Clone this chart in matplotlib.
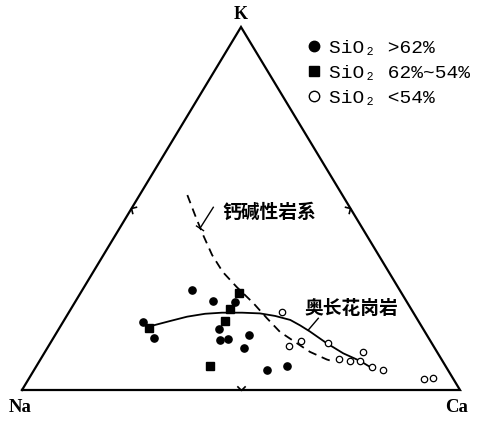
import numpy as np
import matplotlib
matplotlib.use("Agg")
import matplotlib.pyplot as plt
from matplotlib.lines import Line2D
from matplotlib.markers import MarkerStyle
from matplotlib.path import Path
from matplotlib.transforms import Affine2D

#=================================================
#       DATA  (Na, K, Ca in %)
#=================================================
# SiO2 > 62%  (filled circles)
hi_na = [47.4, 44.1, 39.2, 63.0, 62.7, 46.6, 40.5, 47.8, 45.9, 43.4, 41.3, 36.1]
hi_k  = [27.5, 24.5, 24.2, 18.8, 14.3, 16.7, 15.2, 13.9, 14.0, 11.7, 5.6, 6.7]
hi_ca = [25.1, 31.4, 36.6, 18.2, 23.0, 36.7, 44.3, 38.3, 40.1, 44.9, 53.1, 57.2]
# SiO2 62%~54%  (filled squares)
mid_na = [37.2, 41.4, 62.5, 44.3, 53.7]
mid_k  = [26.6, 22.2, 17.0, 18.9, 6.7]
mid_ca = [36.2, 36.4, 20.5, 36.8, 39.6]
# SiO2 < 54%  (open circles)
lo_na = [29.8, 32.9, 29.5, 23.7, 23.3, 21.0, 18.9, 16.9, 17.0, 14.8, 6.8, 4.4]
lo_k  = [21.5, 12.1, 13.6, 12.9, 8.6, 8.1, 8.0, 10.4, 6.4, 5.6, 2.9, 3.4]
lo_ca = [48.7, 55.0, 56.9, 63.4, 68.1, 70.9, 73.1, 72.7, 76.6, 79.6, 90.3, 92.2]

# trondhjemite trend (solid)
tr_na = [61.1, 56.7, 52.2, 47.7, 43.7, 39.1, 35.1, 32.0, 29.1, 27.6, 26.2, 24.0, 21.6, 18.8, 17.4]
tr_k  = [17.8, 19.0, 20.2, 21.0, 21.3, 21.3, 21.1, 20.4, 19.3, 17.8, 16.1, 12.9, 10.1, 8.0, 6.4]
tr_ca = [21.1, 24.3, 27.6, 31.3, 35.0, 39.6, 43.8, 47.6, 51.6, 54.6, 57.7, 63.1, 68.3, 73.2, 76.2]
# calc-alkaline trend (dashed)
ca_na = [35.4, 36.4, 37.3, 38.0, 37.9, 36.8, 35.2, 34.2, 33.1, 30.8, 29.0, 26.2, 24.7]
ca_k  = [53.7, 48.2, 42.7, 37.2, 32.5, 28.4, 23.9, 19.8, 16.0, 12.9, 10.5, 8.4, 7.7]
ca_ca = [10.9, 15.4, 20.0, 24.8, 29.6, 34.8, 40.9, 46.0, 50.9, 56.3, 60.5, 65.4, 67.6]

labels = ["SiO₂ >62%", "SiO₂ 62%~54%", "SiO₂ <54%"]


def tern(na, k, ca):
    na, k, ca = np.asarray(na), np.asarray(k), np.asarray(ca)
    s = na + k + ca
    return (ca + k / 2.0) / s, k / s


#=================================================
#       FIGURE
#=================================================
fig = plt.figure(figsize=(4.82, 4.23), dpi=100)
ax = fig.add_axes([0, 0, 1, 1])
ax.set_xlim(-22 / 438, 460 / 438)
ax.set_ylim(-33 / 363, 390 / 363)
ax.axis("off")

# triangle
ax.plot([0, 1, 0.5, 0], [0, 0, 1, 0], color="black", lw=1.6, solid_joinstyle="miter")

# chevrons at mid-edges
vpath = Path([(-1, 1), (0, 0), (1, 1)], [Path.MOVETO, Path.LINETO, Path.LINETO])
mids = [(0.25, 0.5, -121.1), (0.75, 0.5, 121.1), (0.5, 0.0, 0.0)]
for mx, my, rot in mids:
    ms = MarkerStyle(vpath, transform=Affine2D().rotate_deg(rot))
    ax.plot([mx], [my], marker=ms, ms=6, mew=1.2, mec="black", mfc="none", ls="none")

# trends
x, y = tern(tr_na, tr_k, tr_ca)
ax.plot(x, y, color="black", lw=1.3, solid_capstyle="round", solid_joinstyle="round")
x, y = tern(ca_na, ca_k, ca_ca)
ax.plot(x, y, color="black", lw=1.3, ls=(0, (4.8, 3.2)))

# points
x, y = tern(hi_na, hi_k, hi_ca)
ax.plot(x, y, "o", color="black", ms=5.2, ls="none")
x, y = tern(mid_na, mid_k, mid_ca)
ax.plot(x, y, "s", color="black", ms=5.2, ls="none")
x, y = tern(lo_na, lo_k, lo_ca)
ax.plot(x, y, "o", mfc="white", mec="black", mew=0.9, ms=4.6, ls="none")

# apex labels
ax.text(0.4993, 1.035, "K", ha="center", va="center", fontsize=13,
        family="Liberation Serif", weight="bold")
ax.text(-0.005, -0.047, "Na", ha="center", va="center", fontsize=13.5,
        family="Liberation Serif", weight="bold")
ax.text(0.993, -0.047, "Ca", ha="center", va="center", fontsize=13.5,
        family="Liberation Serif", weight="bold")


def px(p, q):
    return (p - 22) / 438.0, (390 - q) / 363.0


# trend labels and leaders
cjk = ["Noto Sans CJK SC", "DejaVu Sans"]
ax.text(*px(269, 212), "钙碱性岩系", ha="center", va="center", fontsize=13.5,
        family=cjk, weight="bold")
a, b = px(213.3, 207.3), px(200, 228.3)
ax.plot([a[0], b[0]], [a[1], b[1]], color="black", lw=1.0)
t1, t2 = px(196.5, 226), px(203.5, 230.6)
ax.plot([t1[0], t2[0]], [t1[1], t2[1]], color="black", lw=1.0)

ax.text(*px(351, 308), "奥长花岗岩", ha="center", va="center", fontsize=13.5,
        family=cjk, weight="bold")
a, b = px(318.3, 318.3), px(308.3, 330)
ax.plot([a[0], b[0]], [a[1], b[1]], color="black", lw=1.0)

# legend
handles = [
    Line2D([], [], marker="o", color="black", ms=7.5, ls="none"),
    Line2D([], [], marker="s", color="black", ms=7.2, ls="none"),
    Line2D([], [], marker="o", mfc="white", mec="black", mew=1.0, ms=7.5, ls="none"),
]
ax.legend(handles, labels, loc="upper left", bbox_to_anchor=(304 / 482, 1 - 39 / 423),
          bbox_transform=fig.transFigure, frameon=False, borderpad=0, borderaxespad=0,
          handlelength=1.0, handletextpad=0.3, labelspacing=0.38,
          prop={"family": "Liberation Mono", "size": 14})

fig.savefig("out.png", dpi=100)
